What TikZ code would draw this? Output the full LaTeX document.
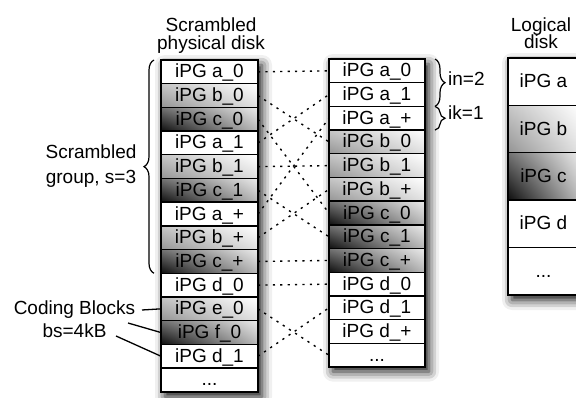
\documentclass[tikz,border=0pt]{standalone}
\usepackage{fontspec}
\setmainfont{Liberation Sans}
\usetikzlibrary{shadings,shadows.blur,decorations.pathreplacing}
\newcommand\titlefont{\fontsize{19}{17.5}\selectfont\lineskiplimit-20pt\relax}
\tikzset{
  cell/.style={draw, line width=1.4pt, minimum width=97pt, minimum height=23.7pt,
    inner sep=0pt, outer sep=0pt, text height=14pt, text depth=2pt,
    font=\fontsize{19}{20}\selectfont},
  mcell/.style={cell, minimum width=96pt},
  lcell/.style={cell, minimum width=71pt, minimum height=47.4pt},
  shA/.style={fill=white},
  shB/.style={lower left=black!42, upper left=black!22, lower right=black!12, upper right=white},
  shC/.style={lower left=black!95, upper left=black!55, lower right=black!28, upper right=black!8},
  link/.style={line width=1.4pt, dash pattern=on 2.2pt off 5.2pt},
  pointer/.style={line width=1.3pt},
  brc/.style={decorate, decoration={brace, amplitude=10pt}, line width=1.2pt},
  colshadow/.style={fill=white, blur shadow={shadow xshift=4pt, shadow yshift=-5pt,
    shadow blur radius=10pt, shadow opacity=95}},
  lbl/.style={inner sep=0pt, align=center},
}
\begin{document}
\begin{tikzpicture}[x=1pt,y=1pt]
\useasboundingbox (0,0) rectangle (576,-398);
% column shadows
\path[colshadow] (161,-60) rectangle (258,-391.8);
\path[colshadow] (329,-59) rectangle (425,-366.6);
\path[colshadow] (508,-58) rectangle (579,-295);
% titles
\node[lbl, font=\titlefont] (t1) at (211,-35.4) {Scrambled\\physical disk};
\node[lbl, font=\titlefont] (t2) at (541,-33.2) {Logical\\disk};
% scrambled physical disk
\node[cell,shA] (L0) at (209.5,-71.85) {iPG a\_0};
\node[cell,shB] (L1) at (209.5,-95.55) {iPG b\_0};
\node[cell,shC] (L2) at (209.5,-119.25) {iPG c\_0};
\node[cell,shA] (L3) at (209.5,-142.95) {iPG a\_1};
\node[cell,shB] (L4) at (209.5,-166.65) {iPG b\_1};
\node[cell,shC] (L5) at (209.5,-190.35) {iPG c\_1};
\node[cell,shA] (L6) at (209.5,-214.05) {iPG a\_+};
\node[cell,shB] (L7) at (209.5,-237.75) {iPG b\_+};
\node[cell,shC] (L8) at (209.5,-261.45) {iPG c\_+};
\node[cell,shA] (L9) at (209.5,-285.15) {iPG d\_0};
\node[cell,shB] (L10) at (209.5,-308.85) {iPG e\_0};
\node[cell,shC] (L11) at (209.5,-332.55) {iPG f\_0};
\node[cell,shA] (L12) at (209.5,-356.25) {iPG d\_1};
\node[cell,shA] (L13) at (209.5,-379.95) {...};
% middle column
\node[mcell,shA] (M0) at (377,-70.85) {iPG a\_0};
\node[mcell,shA] (M1) at (377,-94.55) {iPG a\_1};
\node[mcell,shA] (M2) at (377,-118.25) {iPG a\_+};
\node[mcell,shB] (M3) at (377,-141.95) {iPG b\_0};
\node[mcell,shB] (M4) at (377,-165.65) {iPG b\_1};
\node[mcell,shB] (M5) at (377,-189.35) {iPG b\_+};
\node[mcell,shC] (M6) at (377,-213.05) {iPG c\_0};
\node[mcell,shC] (M7) at (377,-236.75) {iPG c\_1};
\node[mcell,shC] (M8) at (377,-260.45) {iPG c\_+};
\node[mcell,shA] (M9) at (377,-284.15) {iPG d\_0};
\node[mcell,shA] (M10) at (377,-307.85) {iPG d\_1};
\node[mcell,shA] (M11) at (377,-331.55) {iPG d\_+};
\node[mcell,shA] (M12) at (377,-355.25) {...};
% logical disk
\node[lcell,shA] (R0) at (543.5,-81.7) {iPG a};
\node[lcell,shB] (R1) at (543.5,-129.1) {iPG b};
\node[lcell,shC] (R2) at (543.5,-176.5) {iPG c};
\node[lcell,shA] (R3) at (543.5,-223.9) {iPG d};
\node[lcell,shA] (R4) at (543.5,-271.3) {...};
% mapping links
\draw[link] (L0.east) -- (M0.west);
\draw[link] (L1.east) -- (M3.west);
\draw[link] (L2.east) -- (M6.west);
\draw[link] (L3.east) -- (M1.west);
\draw[link] (L4.east) -- (M4.west);
\draw[link] (L5.east) -- (M7.west);
\draw[link] (L6.east) -- (M2.west);
\draw[link] (L7.east) -- (M5.west);
\draw[link] (L8.east) -- (M8.west);
\draw[link] (L9.east) -- (M9.west);
\draw[link] (L10.east) -- (M12.west);
\draw[link] (L12.east) -- (M10.west);
% braces
\draw[brc] ([xshift=-7pt]L8.south west) -- ([xshift=-7pt]L0.north west);
\node[lbl, font=\fontsize{19}{25}\selectfont] (sg) at (91,-166) {Scrambled\\group, s=3};
\draw[brc] ([xshift=10pt]M0.north east) -- ([xshift=10pt]M1.south east);
\draw[brc] ([xshift=10pt]M2.north east) -- ([xshift=10pt]M2.south east);
\node[inner sep=0pt, anchor=base west, font=\fontsize{19}{20}\selectfont] (in) at (448,-86) {in=2};
\node[inner sep=0pt, anchor=base west, font=\fontsize{19}{20}\selectfont] (ik) at (448,-120) {ik=1};
% coding blocks
\node[lbl, font=\fontsize{19}{23.7}\selectfont] (cb) at (74.5,-319.2) {Coding Blocks\\bs=4kB};
\coordinate (cb1) at (142,-310);
\coordinate (cb2) at (128,-323);
\coordinate (cb3) at (116,-336);
\draw[pointer] (cb1) -- (L10.west);
\draw[pointer] (cb2) -- (L11.west);
\draw[pointer] (cb3) -- (L12.west);
\end{tikzpicture}
\end{document}
